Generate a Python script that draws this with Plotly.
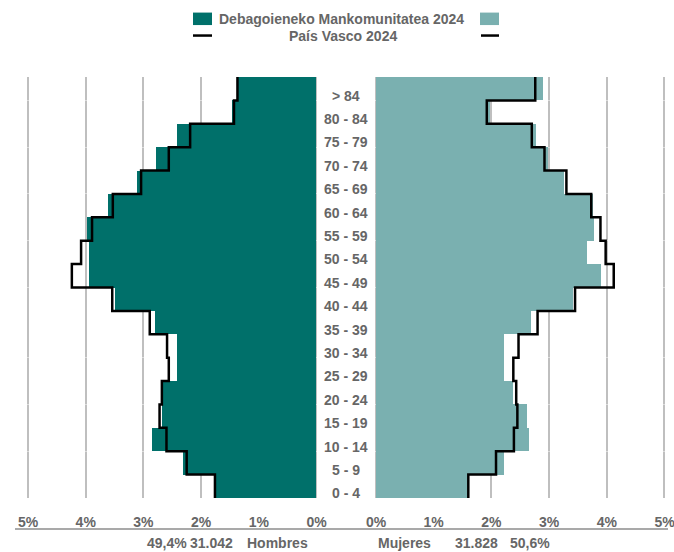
import plotly.graph_objects as go

W, H = 674, 552
PLOT_TOP, PLOT_BOT = 76.5, 498.0
PX_PER_UNIT = 57.7
LEFT_ZERO, RIGHT_ZERO = 316.5, 376.0

ages = ["0 - 4", "5 - 9", "10 - 14", "15 - 19", "20 - 24", "25 - 29", "30 - 34",
        "35 - 39", "40 - 44", "45 - 49", "50 - 54", "55 - 59", "60 - 64",
        "65 - 69", "70 - 74", "75 - 79", "80 - 84", "> 84"]
men_deb = [1.75, 2.31, 2.85, 2.68, 2.65, 2.41, 2.42, 2.79, 3.49, 3.93, 3.93, 3.98,
           3.61, 3.11, 2.78, 2.42, 1.46, 1.38]
women_deb = [1.60, 2.22, 2.65, 2.62, 2.38, 2.21, 2.21, 2.69, 3.42, 3.90, 3.66, 3.78,
             3.75, 3.26, 2.97, 2.77, 1.98, 2.89]
men_pv = [1.76, 2.25, 2.60, 2.72, 2.68, 2.56, 2.59, 2.89, 3.54, 4.24, 4.08, 3.89,
          3.53, 3.04, 2.56, 2.19, 1.43, 1.37]
women_pv = [1.60, 2.08, 2.39, 2.45, 2.43, 2.38, 2.47, 2.80, 3.45, 4.12, 3.98, 3.89,
            3.73, 3.30, 2.92, 2.70, 1.92, 2.76]
tick_vals = [0, 1, 2, 3, 4, 5]
tick_text = ["0%", "1%", "2%", "3%", "4%", "5%"]
series_names = ["Debagoieneko Mankomunitatea 2024", "País Vasco 2024"]
bottom_left = ["49,4%", "31.042", "Hombres"]
bottom_right = ["Mujeres", "31.828", "50,6%"]

DARK = "#00706A"
LIGHT = "#7AB0B0"
TXT = "#666666"
GRID = "#BFBFBF"

R_MIN, R_MAX = -0.02, 5.03


def px(x):
    return x / W


def py(y):
    return (PLOT_BOT - y) / (PLOT_BOT - PLOT_TOP)


left_dom = [px(LEFT_ZERO - R_MAX * PX_PER_UNIT), px(LEFT_ZERO - R_MIN * PX_PER_UNIT)]
right_dom = [px(RIGHT_ZERO + R_MIN * PX_PER_UNIT), px(RIGHT_ZERO + R_MAX * PX_PER_UNIT)]

pos = list(range(len(ages)))
bounds = [p - 0.5 for p in pos] + [pos[-1] + 0.5]

fig = go.Figure()
fig.add_trace(go.Bar(y=pos, x=men_deb, orientation="h", marker_color=DARK,
                     marker_line_width=0, xaxis="x", yaxis="y", showlegend=False))
fig.add_trace(go.Bar(y=pos, x=women_deb, orientation="h", marker_color=LIGHT,
                     marker_line_width=0, xaxis="x2", yaxis="y", showlegend=False))
fig.add_trace(go.Scatter(y=bounds, x=men_pv + [men_pv[-1]], mode="lines",
                         line=dict(color="black", width=2.5, shape="vh"),
                         xaxis="x", yaxis="y", showlegend=False))
fig.add_trace(go.Scatter(y=bounds, x=women_pv + [women_pv[-1]], mode="lines",
                         line=dict(color="black", width=2.5, shape="vh"),
                         xaxis="x2", yaxis="y", showlegend=False))

axis_common = dict(tickvals=tick_vals, ticktext=tick_text, showgrid=True,
                   gridcolor=GRID, gridwidth=1.5, zeroline=False, showline=False,
                   ticks="", ticklabelstandoff=14, automargin=False,
                   ticklabeloverflow="allow",
                   tickfont=dict(size=14, color=TXT, family="Liberation Sans", weight="bold"))
overlay_common = dict(tickvals=tick_vals[1:-1], showticklabels=False, showgrid=True,
                      gridcolor="rgba(255,255,255,0.22)", gridwidth=1, zeroline=False,
                      showline=False, ticks="", automargin=False, layer="above traces",
                      anchor="y")

fig.update_layout(
    template="none",
    width=W, height=H,
    margin=dict(l=0, r=0, t=PLOT_TOP, b=H - PLOT_BOT, pad=0),
    plot_bgcolor="white", paper_bgcolor="white",
    bargap=0, barmode="overlay",
    font=dict(family="Liberation Sans", color=TXT, size=14, weight="bold"),
    xaxis=dict(domain=left_dom, range=[R_MAX, R_MIN], anchor="y", **axis_common),
    xaxis2=dict(domain=right_dom, range=[R_MIN, R_MAX], anchor="y", **axis_common),
    xaxis3=dict(domain=left_dom, range=[R_MAX, R_MIN], overlaying="x", **overlay_common),
    xaxis4=dict(domain=right_dom, range=[R_MIN, R_MAX], overlaying="x2", **overlay_common),
    yaxis=dict(range=[-0.5, 17.5], tickvals=[1.5, 3.5, 5.5, 8.5, 10.5, 12.5, 14.5, 16.5],
               showticklabels=False, showgrid=True, gridcolor="rgba(255,255,255,0.45)",
               gridwidth=1, zeroline=False, layer="above traces", ticks="",
               automargin=False, showline=False),
)

annotations = []
for p, a in zip(pos, ages):
    annotations.append(dict(x=px(346), y=p, xref="paper", yref="y", text=a,
                            showarrow=False, xanchor="center", yanchor="middle",
                            yshift=-7, font=dict(size=14, color=TXT)))

# bottom texts
annotations += [
    dict(x=px(188), y=py(543), text=bottom_left[0], xanchor="right"),
    dict(x=px(188.5), y=py(543), text=bottom_left[1], xanchor="left"),
    dict(x=px(246), y=py(543), text=bottom_left[2], xanchor="left"),
    dict(x=px(377), y=py(543), text=bottom_right[0], xanchor="left"),
    dict(x=px(477), y=py(543), text=bottom_right[1], xanchor="center"),
    dict(x=px(530), y=py(543), text=bottom_right[2], xanchor="center"),
]
for a in annotations[len(ages):]:
    a.update(xref="paper", yref="paper", showarrow=False, yanchor="middle",
             borderpad=0, font=dict(size=14, color=TXT))

# legend texts
annotations += [
    dict(x=px(341), y=py(18), xref="paper", yref="paper", text=series_names[0],
         showarrow=False, xanchor="center", yanchor="middle", font=dict(size=14, color=TXT)),
    dict(x=px(343), y=py(35), xref="paper", yref="paper", text=series_names[1],
         showarrow=False, xanchor="center", yanchor="middle", font=dict(size=14, color=TXT)),
]
fig.update_layout(annotations=annotations)

shapes = [
    # legend swatches
    dict(type="rect", xref="paper", yref="paper", x0=px(193), x1=px(212),
         y0=py(24.5), y1=py(12), fillcolor=DARK, line_width=0),
    dict(type="rect", xref="paper", yref="paper", x0=px(480), x1=px(499),
         y0=py(24.5), y1=py(12), fillcolor=LIGHT, line_width=0),
    dict(type="line", xref="paper", yref="paper", x0=px(193), x1=px(212),
         y0=py(35), y1=py(35), line=dict(color="black", width=2.5)),
    dict(type="line", xref="paper", yref="paper", x0=px(481), x1=px(499),
         y0=py(35), y1=py(35), line=dict(color="black", width=2.5)),
    # bottom rule under tick labels
    dict(type="line", xref="paper", yref="paper", x0=px(15), x1=px(668),
         y0=py(529), y1=py(529), line=dict(color="#8C8C8C", width=1.5)),
]
fig.update_layout(shapes=shapes)

fig.write_html("out.html", config={"displayModeBar": False},
               post_script="document.body.style.margin='0';document.body.style.overflow='hidden';")
